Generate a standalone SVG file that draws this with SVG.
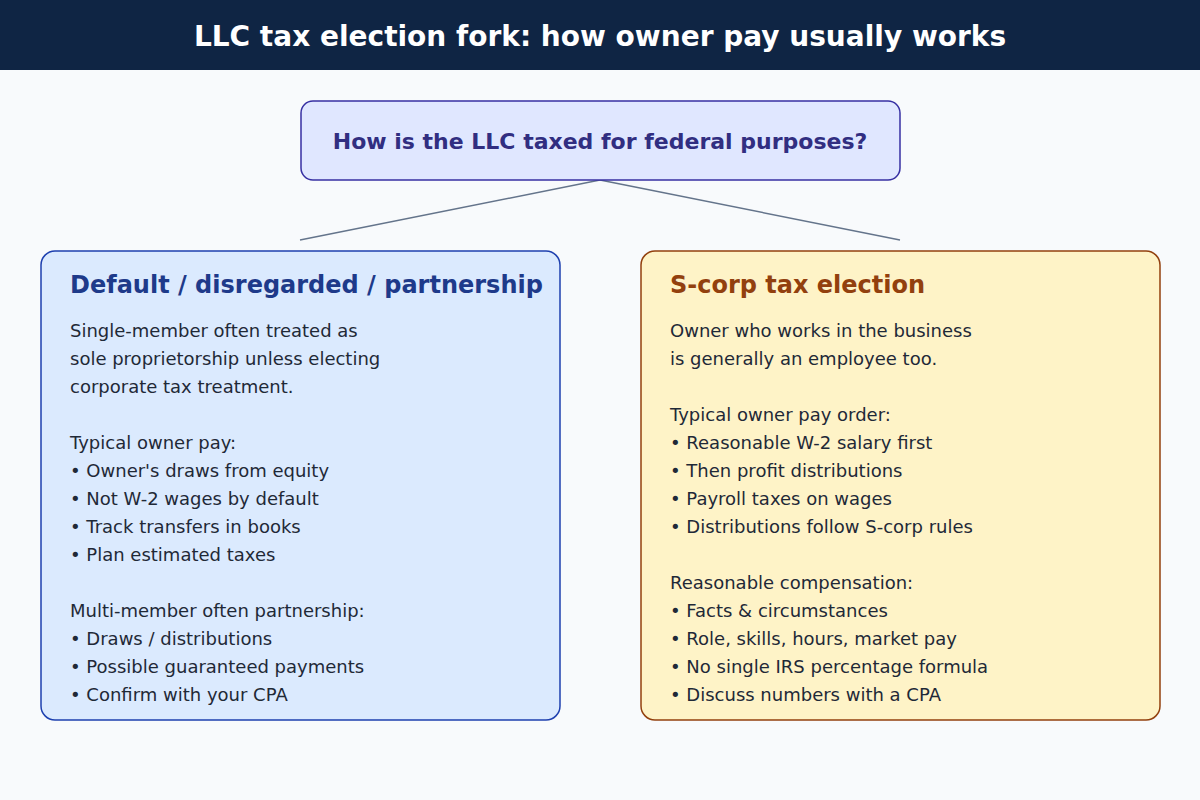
<svg xmlns="http://www.w3.org/2000/svg" width="1200" height="800" viewBox="0 0 1200 800">
<style>
text{font-family:"DejaVu Sans","Liberation Sans",sans-serif}
.title{font-size:28px;font-weight:bold;fill:#ffffff}
.q{font-size:22px;font-weight:bold;fill:#312e81}
.h{font-size:24px;font-weight:bold}
.b{font-size:18px;fill:#1f2937}
.conn{stroke:#64748b;stroke-width:1.5;fill:none}
</style>
<rect x="0" y="0" width="1200" height="800" fill="#f8fafc"/>
<rect x="0" y="0" width="1200" height="70" fill="#0f2544"/>
<text class="title" x="600" y="46" text-anchor="middle">LLC tax election fork: how owner pay usually works</text>
<g id="connectors">
<line class="conn" x1="600" y1="180" x2="300" y2="240"/>
<line class="conn" x1="600" y1="180" x2="900" y2="240"/>
</g>
<g id="question">
<rect x="301" y="101" width="599" height="79" rx="12" fill="#e0e7ff" stroke="#3730a3" stroke-width="1.5"/>
<text class="q" x="600" y="149" text-anchor="middle">How is the LLC taxed for federal purposes?</text>
</g>
<g id="default">
<rect x="41" y="251" width="519" height="469" rx="14" fill="#dbeafe" stroke="#1e40af" stroke-width="1.5"/>
<text class="h" x="70" y="293" fill="#1e3a8a">Default / disregarded / partnership</text>
<text class="b" x="70" y="337">Single-member often treated as</text>
<text class="b" x="70" y="365">sole proprietorship unless electing</text>
<text class="b" x="70" y="393">corporate tax treatment.</text>
<text class="b" x="70" y="449">Typical owner pay:</text>
<text class="b" x="70" y="477">• Owner's draws from equity</text>
<text class="b" x="70" y="505">• Not W-2 wages by default</text>
<text class="b" x="70" y="533">• Track transfers in books</text>
<text class="b" x="70" y="561">• Plan estimated taxes</text>
<text class="b" x="70" y="617">Multi-member often partnership:</text>
<text class="b" x="70" y="645">• Draws / distributions</text>
<text class="b" x="70" y="673">• Possible guaranteed payments</text>
<text class="b" x="70" y="701">• Confirm with your CPA</text>
</g>
<g id="scorp">
<rect x="641" y="251" width="519" height="469" rx="14" fill="#fef3c7" stroke="#92400e" stroke-width="1.5"/>
<text class="h" x="670" y="293" fill="#92400e">S-corp tax election</text>
<text class="b" x="670" y="337">Owner who works in the business</text>
<text class="b" x="670" y="365">is generally an employee too.</text>
<text class="b" x="670" y="421">Typical owner pay order:</text>
<text class="b" x="670" y="449">• Reasonable W-2 salary first</text>
<text class="b" x="670" y="477">• Then profit distributions</text>
<text class="b" x="670" y="505">• Payroll taxes on wages</text>
<text class="b" x="670" y="533">• Distributions follow S-corp rules</text>
<text class="b" x="670" y="589">Reasonable compensation:</text>
<text class="b" x="670" y="617">• Facts &amp; circumstances</text>
<text class="b" x="670" y="645">• Role, skills, hours, market pay</text>
<text class="b" x="670" y="673">• No single IRS percentage formula</text>
<text class="b" x="670" y="701">• Discuss numbers with a CPA</text>
</g>
</svg>
